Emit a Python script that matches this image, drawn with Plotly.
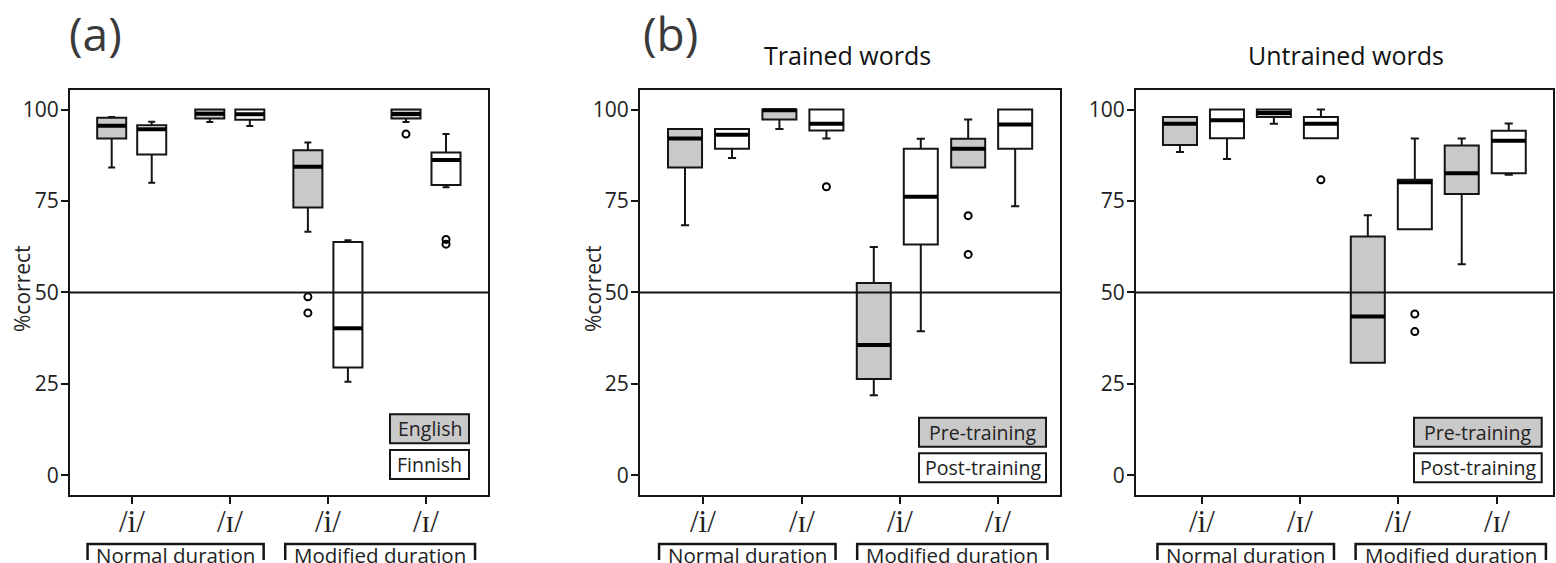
import plotly.graph_objects as go

W, H = 1556, 563

# ---------------- data ----------------
CATEGORIES = ["/i/", "/ɪ/", "/i/", "/ɪ/"]
GROUP_LABELS = ["Normal duration", "Modified duration"]
Y_TICKS = [0, 25, 50, 75, 100]

# Panel (a): English vs Finnish listeners
A_ENG_Q1 = [92.1, 97.6, 73.2, 97.6]
A_ENG_MED = [95.6, 98.9, 84.4, 98.8]
A_ENG_Q3 = [97.8, 100.0, 88.9, 100.0]
A_ENG_LO = [84.2, 96.6, 66.6, 96.6]
A_ENG_HI = [98.0, 100.0, 91.0, 100.0]
A_ENG_OUT = [[], [], [48.8, 44.4], [93.3]]

A_FIN_Q1 = [87.7, 97.2, 29.5, 79.4]
A_FIN_MED = [94.6, 98.7, 40.2, 86.2]
A_FIN_Q3 = [95.7, 100.0, 63.8, 88.3]
A_FIN_LO = [80.0, 95.5, 25.6, 78.8]
A_FIN_HI = [96.7, 100.0, 64.3, 93.3]
A_FIN_OUT = [[], [], [], [64.5, 63.2]]

# Panel (b) trained words: pre vs post training
T_PRE_Q1 = [84.2, 97.3, 26.3, 84.2]
T_PRE_MED = [92.1, 99.8, 35.6, 89.3]
T_PRE_Q3 = [94.7, 100.0, 52.6, 92.0]
T_PRE_LO = [68.4, 94.7, 21.9, 84.2]
T_PRE_HI = [94.7, 100.0, 62.4, 97.3]
T_PRE_OUT = [[], [], [], [71.0, 60.4]]

T_POST_Q1 = [89.3, 94.3, 63.1, 89.3]
T_POST_MED = [93.1, 96.1, 76.2, 95.9]
T_POST_Q3 = [94.7, 100.0, 89.3, 100.0]
T_POST_LO = [86.8, 92.1, 39.4, 73.6]
T_POST_HI = [94.7, 100.0, 92.0, 100.0]
T_POST_OUT = [[], [78.9], [], []]

# Panel (b) untrained words
U_PRE_Q1 = [90.3, 98.0, 30.8, 76.9]
U_PRE_MED = [96.1, 99.1, 43.4, 82.6]
U_PRE_Q3 = [98.0, 100.0, 65.3, 90.2]
U_PRE_LO = [88.4, 96.1, 30.8, 57.7]
U_PRE_HI = [98.0, 100.0, 71.1, 92.1]
U_PRE_OUT = [[], [], [], []]

U_POST_Q1 = [92.2, 92.2, 67.3, 82.6]
U_POST_MED = [97.1, 96.1, 80.1, 91.5]
U_POST_Q3 = [100.0, 98.0, 80.8, 94.2]
U_POST_LO = [86.5, 92.2, 67.3, 82.2]
U_POST_HI = [100.0, 100.0, 92.1, 96.2]
U_POST_OUT = [[], [80.8], [44.1, 39.3], []]

# ---------------- styles ----------------
SANS = "Open Sans, Noto Sans, Arial, sans-serif"
SERIF = "Liberation Serif, DejaVu Serif, serif"
INK = "#151515"
TXT = "#222222"
GRAY = "#c9c9c9"
LW = 2


def px(x):
    return x / W


def py(y):
    return 1 - y / H


Y_DOM = [py(495), py(89.5)]
Y_RANGE = [-5.4, 105.5]

panels = [
    dict(ax="", dom=[px(70), px(488)], xr=[-0.629, 3.632], shift=0.0, step=1.0, off=0.204, bw=0.296,
         series=[(A_ENG_Q1, A_ENG_MED, A_ENG_Q3, A_ENG_LO, A_ENG_HI, A_ENG_OUT, GRAY, -1),
                 (A_FIN_Q1, A_FIN_MED, A_FIN_Q3, A_FIN_LO, A_FIN_HI, A_FIN_OUT, "white", 1)]),
    dict(ax="2", dom=[px(640), px(1060)], xr=[-0.644, 3.628], shift=0.053, step=0.96, off=0.239, bw=0.346,
         series=[(T_PRE_Q1, T_PRE_MED, T_PRE_Q3, T_PRE_LO, T_PRE_HI, T_PRE_OUT, GRAY, -1),
                 (T_POST_Q1, T_POST_MED, T_POST_Q3, T_POST_LO, T_POST_HI, T_POST_OUT, "white", 1)]),
    dict(ax="3", dom=[px(1136), px(1553)], xr=[-0.668, 3.572], shift=0.018, step=0.955, off=0.239, bw=0.346,
         series=[(U_PRE_Q1, U_PRE_MED, U_PRE_Q3, U_PRE_LO, U_PRE_HI, U_PRE_OUT, GRAY, -1),
                 (U_POST_Q1, U_POST_MED, U_POST_Q3, U_POST_LO, U_POST_HI, U_POST_OUT, "white", 1)]),
]

fig = go.Figure()
shapes = []
annotations = []

for p in panels:
    xa, ya = "x" + p["ax"], "y" + p["ax"]
    for q1, med, q3, lo, hi, outs, fill, sign in p["series"]:
        pos = [p["shift"] + p["step"] * g + sign * p["off"] for g in range(len(CATEGORIES))]
        fig.add_trace(go.Box(
            x=pos, q1=q1, median=med, q3=q3, lowerfence=lo, upperfence=hi,
            width=p["bw"], whiskerwidth=0.24, fillcolor=fill,
            line=dict(color=INK, width=LW), xaxis=xa, yaxis=ya,
            showlegend=False, hoverinfo="skip",
        ))
        # thick median bars
        mx, my = [], []
        for c, m in zip(pos, med):
            mx += [c - p["bw"] / 2, c + p["bw"] / 2, None]
            my += [m, m, None]
        fig.add_trace(go.Scatter(x=mx, y=my, mode="lines", line=dict(color="black", width=4),
                                 xaxis=xa, yaxis=ya, showlegend=False, hoverinfo="skip"))
        # outliers
        ox, oy = [], []
        for c, vals in zip(pos, outs):
            for v in vals:
                ox.append(c)
                oy.append(v)
        if ox:
            fig.add_trace(go.Scatter(x=ox, y=oy, mode="markers",
                                     marker=dict(symbol="circle-open", size=7, color="black",
                                                 line=dict(width=2, color="black")),
                                     xaxis=xa, yaxis=ya, showlegend=False, hoverinfo="skip"))

    # chance line
    shapes.append(dict(type="line", xref=xa + " domain", yref=ya, x0=0, x1=1, y0=50, y1=50,
                       line=dict(color=INK, width=LW), layer="above"))

    # category labels under the ticks
    for g, lab in enumerate(CATEGORIES):
        annotations.append(dict(x=g, xref=xa, y=py(521), yref="paper", text=lab, showarrow=False,
                                xanchor="center", yanchor="middle",
                                font=dict(family=SERIF, size=31, color=TXT)))

    # brackets below the axis
    for (b0, b1), lab in zip([(-0.45, 1.345), (1.565, 3.5)], GROUP_LABELS):
        yt, yb = py(544), py(560)
        shapes.append(dict(type="path", xref=xa, yref="paper",
                           path=f"M {b0},{yb} L {b0},{yt} L {b1},{yt} L {b1},{yb}",
                           line=dict(color=INK, width=2.5)))
        annotations.append(dict(x=(b0 + b1) / 2, xref=xa, y=py(555), yref="paper",
                                text=lab, showarrow=False, xanchor="center", yanchor="middle",
                                font=dict(family=SANS, size=20.5, color=TXT)))

    axis_common = dict(showline=True, mirror=True, linecolor=INK, linewidth=LW,
                       ticks="outside", ticklen=7, tickwidth=2, tickcolor=INK,
                       showgrid=False, zeroline=False)
    fig.update_layout(**{
        "xaxis" + p["ax"]: dict(domain=p["dom"], range=p["xr"], anchor=ya,
                                tickvals=list(range(len(CATEGORIES))), showticklabels=False,
                                **axis_common),
        "yaxis" + p["ax"]: dict(domain=Y_DOM, range=Y_RANGE, anchor=xa, tickvals=Y_TICKS,
                                ticklabelstandoff=-2,
                                tickfont=dict(family=SANS, size=21, color=TXT), **axis_common),
    })

# legend boxes
LEGENDS = [
    ((390, 469), [("English", GRAY), ("Finnish", "white")], (414.3, 443.3), (450, 479)),
    ((919, 1046), [("Pre-training", GRAY), ("Post-training", "white")], (417.7, 446.7), (453.3, 482.3)),
    ((1414, 1541.7), [("Pre-training", GRAY), ("Post-training", "white")], (417.7, 446.7), (453.3, 482.3)),
]
for (x0, x1), items, r1, r2 in LEGENDS:
    for (lab, fill), (y0, y1) in zip(items, [r1, r2]):
        shapes.append(dict(type="rect", xref="paper", yref="paper", x0=px(x0), x1=px(x1),
                           y0=py(y1), y1=py(y0), fillcolor=fill, line=dict(color=INK, width=2)))
        annotations.append(dict(x=px((x0 + x1) / 2), y=py((y0 + y1) / 2), xref="paper", yref="paper",
                                text=lab, showarrow=False, xanchor="center", yanchor="middle",
                                font=dict(family=SANS, size=19.5, color=TXT)))

# titles and labels
for txt, x, y, size, color, ang in [
    ("(a)", 95, 33, 46, "#3a3a3a", 0),
    ("(b)", 670, 33, 46, "#3a3a3a", 0),
    ("Trained words", 847, 55, 25, "#111111", 0),
    ("Untrained words", 1346, 55, 25, "#111111", 0),
    ("%correct", 22, 289, 21, TXT, -90),
    ("%correct", 593, 289, 21, TXT, -90),
]:
    annotations.append(dict(x=px(x), y=py(y), xref="paper", yref="paper", text=txt, showarrow=False,
                            xanchor="center", yanchor="middle", textangle=ang,
                            font=dict(family=SANS, size=size, color=color)))

fig.update_layout(width=W, height=H, margin=dict(l=0, r=0, t=0, b=0),
                  paper_bgcolor="white", plot_bgcolor="white", boxmode="overlay",
                  shapes=shapes, annotations=annotations, showlegend=False)

fig.write_html("out.html", config={"displayModeBar": False},
               post_script="document.body.style.margin='0';document.body.style.overflow='hidden';")
